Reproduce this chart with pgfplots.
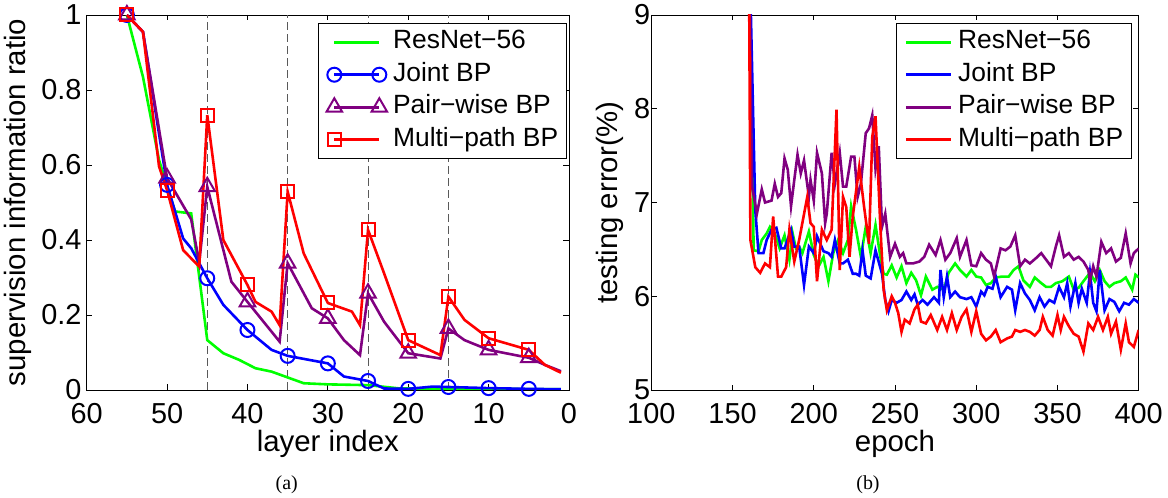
\documentclass[border=0pt]{standalone}
\usepackage{pgfplots}
\pgfplotsset{compat=1.18}
\usepackage{fontspec}
\setmainfont{Liberation Sans}
\newfontfamily\capfont{Liberation Serif}

\definecolor{mgreen}{rgb}{0,1,0}
\definecolor{mblue}{rgb}{0,0,1}
\definecolor{mpurple}{rgb}{0.5,0,0.5}
\definecolor{mred}{rgb}{1,0,0}

\pgfplotsset{
  mat/.style={
    scale only axis, height=375bp,
    axis line style={line width=0.9bp},
    every tick/.style={black, line width=0.9bp},
    tick align=inside, tick pos=both, major tick length=5.5bp,
    tick label style={font=\fontsize{29}{29}\selectfont},
    /pgf/number format/assume math mode=true,
    xticklabel style={inner sep=0pt, yshift=-13bp},
    label style={font=\fontsize{29.5}{30}\selectfont},
    every axis plot/.append style={line width=2.6bp},
    legend cell align=left,
    legend style={font=\fontsize{26.5}{27}\selectfont, draw=black, line width=0.9bp,
      inner xsep=8bp, inner ysep=6bp, anchor=north east,
      nodes={inner sep=0pt, text height=19bp, text depth=6bp},
      row sep=7.5bp, column sep=6bp},
    legend image code/.code={\draw[mark repeat=2,mark phase=2,#1] plot coordinates {(0bp,0bp) (22.5bp,0bp) (45bp,0bp)};},
  },
  refline/.style={forget plot, gray!70!black, line width=0.9bp, dash pattern=on 8bp off 4bp},
}

\begin{document}
\begin{tikzpicture}
\useasboundingbox (0bp,0bp) rectangle (1168bp,498bp);

% (a) supervision ratio per layer
\begin{axis}[mat, at={(86.7bp,108bp)}, anchor=south west, width=482.3bp,
  xmin=0, xmax=60, x dir=reverse, ymin=0, ymax=1,
  xtick={0,10,...,60}, ytick={0,0.2,0.4,0.6,0.8,1}, yticklabels={0,0.2,0.4,0.6,0.8,1},
  yticklabel style={inner sep=0pt, xshift=-5bp},
  xlabel={layer index}, ylabel={supervision information ratio},
  xlabel style={at={(axis description cs:0.5,-0.1645)}, anchor=base},
  ylabel style={at={(axis description cs:-0.1259,0.5)}, anchor=base},
  legend style={at={(axis description cs:0.9952,0.9779)}},
]
\addplot[refline] coordinates {(45,0) (45,1)};
\addplot[refline] coordinates {(35,0) (35,1)};
\addplot[refline] coordinates {(25,0) (25,1)};
\addplot[refline] coordinates {(15,0) (15,1)};

\addplot[mgreen] coordinates {
  (55,1.0) (53,0.835) (51,0.613) (49,0.476) (47,0.471) (45,0.133) (43,0.098)
  (41,0.08) (39,0.058) (37,0.049) (33,0.018) (30,0.015) (25,0.013) (21,0.004) (1,0.002)
};
\addlegendentry{ResNet−56}

\addplot[mblue, mark=o, mark size=7bp, mark options={line width=2bp},
  mark indices={1,3,6,8,10,11,13,15,17,18,19}] coordinates {
  (55,1.0) (53,0.955) (50,0.547) (48,0.404) (47,0.378) (45,0.298) (43,0.227)
  (40,0.16) (37,0.107) (35,0.091) (30,0.071) (28,0.036) (25,0.024) (23,0.004)
  (20,0.003) (17,0.009) (15,0.008) (10,0.005) (5,0.003) (1,0.002)
};
\addlegendentry{Joint BP}

\addplot[mpurple, mark=triangle, mark size=9bp, mark options={line width=2bp},
  mark indices={1,3,6,8,10,12,15,17,19,21,22}] coordinates {
  (55,1.0) (53,0.955) (50,0.565) (47,0.455) (46,0.34) (45,0.542) (42,0.289)
  (40,0.235) (36,0.129) (35,0.338) (32,0.218) (30,0.191) (28,0.133) (26,0.093)
  (25,0.258) (23,0.182) (20,0.098) (16,0.084) (15,0.164) (13,0.133) (10,0.107)
  (5,0.086) (3,0.067) (1,0.05)
};
\addlegendentry{Pair−wise BP}

\addplot[mred, mark=square, mark size=6.5bp, mark options={line width=2bp},
  mark indices={1,4,7,9,13,15,18,20,22,24,25}] coordinates {
  (55,1.0) (53,0.955) (51,0.596) (50,0.533) (48,0.373) (46,0.329) (45,0.733)
  (43,0.40) (40,0.28) (39,0.235) (37,0.209) (36,0.173) (35,0.529) (33,0.364)
  (30,0.232) (27,0.209) (26,0.173) (25,0.427) (23,0.311) (20,0.133) (16,0.093)
  (15,0.249) (13,0.187) (10,0.138) (5,0.107) (3,0.067) (1,0.046)
};
\addlegendentry{Multi−path BP}
\end{axis}

% (b) testing error per epoch
\begin{axis}[mat, at={(651.3bp,108bp)}, anchor=south west, width=487.4bp,
  xmin=100, xmax=400, ymin=5, ymax=9,
  xtick={100,150,...,400}, ytick={5,6,7,8,9},
  yticklabel style={inner sep=0pt, xshift=-1bp},
  xlabel={epoch}, ylabel={testing error(\%)},
  xlabel style={at={(axis description cs:0.5,-0.1645)}, anchor=base},
  ylabel style={at={(axis description cs:-0.0689,0.5)}, anchor=base},
  legend style={at={(axis description cs:0.9856,0.9779)}},
]
\addplot[mgreen] coordinates {
  (160,10) (163,6.49) (166,6.48) (168,6.6) (171,6.67) (173,6.74) (176,6.67) (179,6.51)
  (182,6.65) (185,6.39) (187,6.67) (189,6.51) (191,6.53) (193,6.46) (197,6.69) (200,6.44)
  (203,6.32) (206,6.42) (209,6.16) (212,6.46) (215,6.6) (218,6.46) (221,6.6) (223,6.96)
  (226,6.71) (229,6.42) (232,6.74) (235,6.46) (238,6.76) (241,6.42) (243,6.24) (245,6.23)
  (248,6.33) (251,6.2) (254,6.32) (257,6.14) (260,6.25) (263,6.17) (266,6.01) (269,6.21)
  (273,6.07) (276,6.1) (280,6.07) (283,6.25) (287,6.35) (290,6.28) (294,6.21) (297,6.28)
  (300,6.21) (303,6.2) (306,6.12) (309,6.14) (312,6.2) (316,6.21) (320,6.21) (323,6.28)
  (326,6.32) (329,6.17) (333,6.1) (336,6.2) (340,6.14) (343,6.1) (346,6.1) (349,6.14)
  (353,6.16) (357,6.21) (360,6.07) (363,6.09) (366,6.16) (370,6.25) (373,6.16) (376,6.28)
  (379,6.16) (382,6.1) (385,6.14) (389,6.16) (392,6.2) (396,6.07) (398,6.23) (400,6.2)
};
\addlegendentry{ResNet−56}

\addplot[mblue] coordinates {
  (160,10) (164,6.92) (166,6.46) (169,6.46) (171,6.6) (174,6.71) (177,6.73) (180,6.51)
  (182,6.51) (186,6.71) (188,6.53) (191,6.53) (194,6.12) (197,6.53) (200,6.46) (202,6.64)
  (206,6.48) (209,6.46) (211,6.42) (213,6.6) (216,6.35) (218,6.35) (221,6.39) (224,6.24)
  (226,6.24) (228,6.22) (230,6.49) (232,6.22) (235,6.19) (238,6.49) (242,6.24) (244,5.96)
  (246,5.84) (248,5.96) (251,5.93) (254,5.96) (257,6.05) (260,5.96) (262,6.02) (264,5.91)
  (267,5.96) (270,5.91) (274,5.99) (277,5.93) (278,6.28) (280,5.99) (282,6.21) (284,5.99)
  (287,6.05) (290,5.99) (294,5.97) (297,5.99) (300,5.89) (303,6.05) (305,6.01) (307,6.1)
  (310,6.08) (312,6.21) (315,5.99) (319,6.1) (322,6.07) (324,5.85) (327,6.14) (330,6.03)
  (333,5.96) (336,5.85) (339,5.99) (342,5.89) (345,5.96) (348,5.93) (351,6.1) (354,5.99)
  (356,6.14) (358,5.89) (361,6.14) (363,5.93) (365,6.08) (368,5.93) (370,6.25) (372,5.93)
  (374,5.84) (376,6.28) (379,5.85) (382,5.97) (385,5.94) (388,5.84) (391,5.93) (394,5.91)
  (397,5.97) (400,5.93)
};
\addlegendentry{Joint BP}

\addplot[mpurple] coordinates {
  (160,10) (162,7.17) (165,6.88) (168,7.14) (170,7.0) (174,7.02) (176,7.2) (178,7.06)
  (180,7.1) (182,7.47) (184,7.35) (186,6.96) (188,7.24) (190,7.51) (192,7.31) (194,7.45)
  (197,7.06) (198,7.24) (200,7.02) (202,7.53) (205,7.31) (207,6.78) (208,6.88) (211,7.53)
  (213,7.2) (216,7.53) (218,7.17) (220,7.17) (223,7.49) (225,7.49) (227,7.06) (229,7.2)
  (232,7.74) (234,7.79) (236,7.93) (238,7.36) (240,7.6) (242,6.74) (244,6.88) (247,6.42)
  (250,6.56) (253,6.42) (255,6.46) (257,6.35) (261,6.35) (265,6.37) (268,6.42) (271,6.55)
  (275,6.44) (278,6.6) (281,6.39) (284,6.46) (288,6.62) (290,6.42) (294,6.6) (297,6.33)
  (300,6.32) (303,6.46) (306,6.39) (309,6.35) (311,6.21) (315,6.51) (318,6.49) (321,6.53)
  (324,6.65) (327,6.32) (330,6.39) (333,6.35) (337,6.41) (340,6.46) (343,6.39) (346,6.32)
  (349,6.53) (351,6.65) (354,6.42) (357,6.46) (360,6.39) (363,6.42) (366,6.37) (369,6.28)
  (370,6.16) (372,6.32) (374,6.21) (377,6.58) (380,6.46) (383,6.51) (386,6.37) (389,6.41)
  (392,6.67) (395,6.35) (397,6.46) (400,6.51)
};
\addlegendentry{Pair−wise BP}

\addplot[mred] coordinates {
  (160,10) (161,6.6) (164,6.31) (167,6.25) (170,6.35) (173,6.31) (175,6.85) (178,6.21)
  (180,6.21) (183,6.31) (185,6.71) (188,6.37) (191,6.6) (196,7.06) (198,6.78) (200,6.74)
  (202,6.16) (205,6.71) (208,6.6) (211,6.71) (214,7.99) (216,6.28) (218,7.06) (220,6.95)
  (222,6.42) (224,6.85) (228,7.38) (231,6.95) (234,6.56) (236,7.70) (238,7.92) (241,6.74)
  (243,6.07) (245,5.85) (248,6.0) (250,5.93) (252,5.82) (254,5.62) (256,5.75) (259,5.71)
  (262,5.86) (264,5.91) (266,5.73) (269,5.71) (272,5.8) (276,5.64) (279,5.78) (282,5.64)
  (285,5.82) (288,5.64) (291,5.78) (294,5.86) (297,5.62) (300,5.84) (303,5.6) (306,5.53)
  (309,5.57) (312,5.64) (315,5.51) (319,5.55) (322,5.57) (324,5.64) (327,5.62) (330,5.64)
  (333,5.62) (336,5.58) (339,5.64) (341,5.78) (344,5.64) (347,5.58) (350,5.8) (352,5.64)
  (354,5.78) (357,5.68) (360,5.6) (363,5.57) (366,5.41) (369,5.71) (372,5.64) (375,5.78)
  (378,5.64) (381,5.78) (383,5.6) (386,5.73) (389,5.43) (392,5.71) (394,5.51) (397,5.46)
  (400,5.64)
};
\addlegendentry{Multi−path BP}
\end{axis}

\node[font=\capfont\fontsize{20}{20}\selectfont, anchor=base] at (286.7bp,8.2bp) {(a)};
\node[font=\capfont\fontsize{20}{20}\selectfont, anchor=base] at (868bp,8.2bp) {(b)};
\end{tikzpicture}
\end{document}
